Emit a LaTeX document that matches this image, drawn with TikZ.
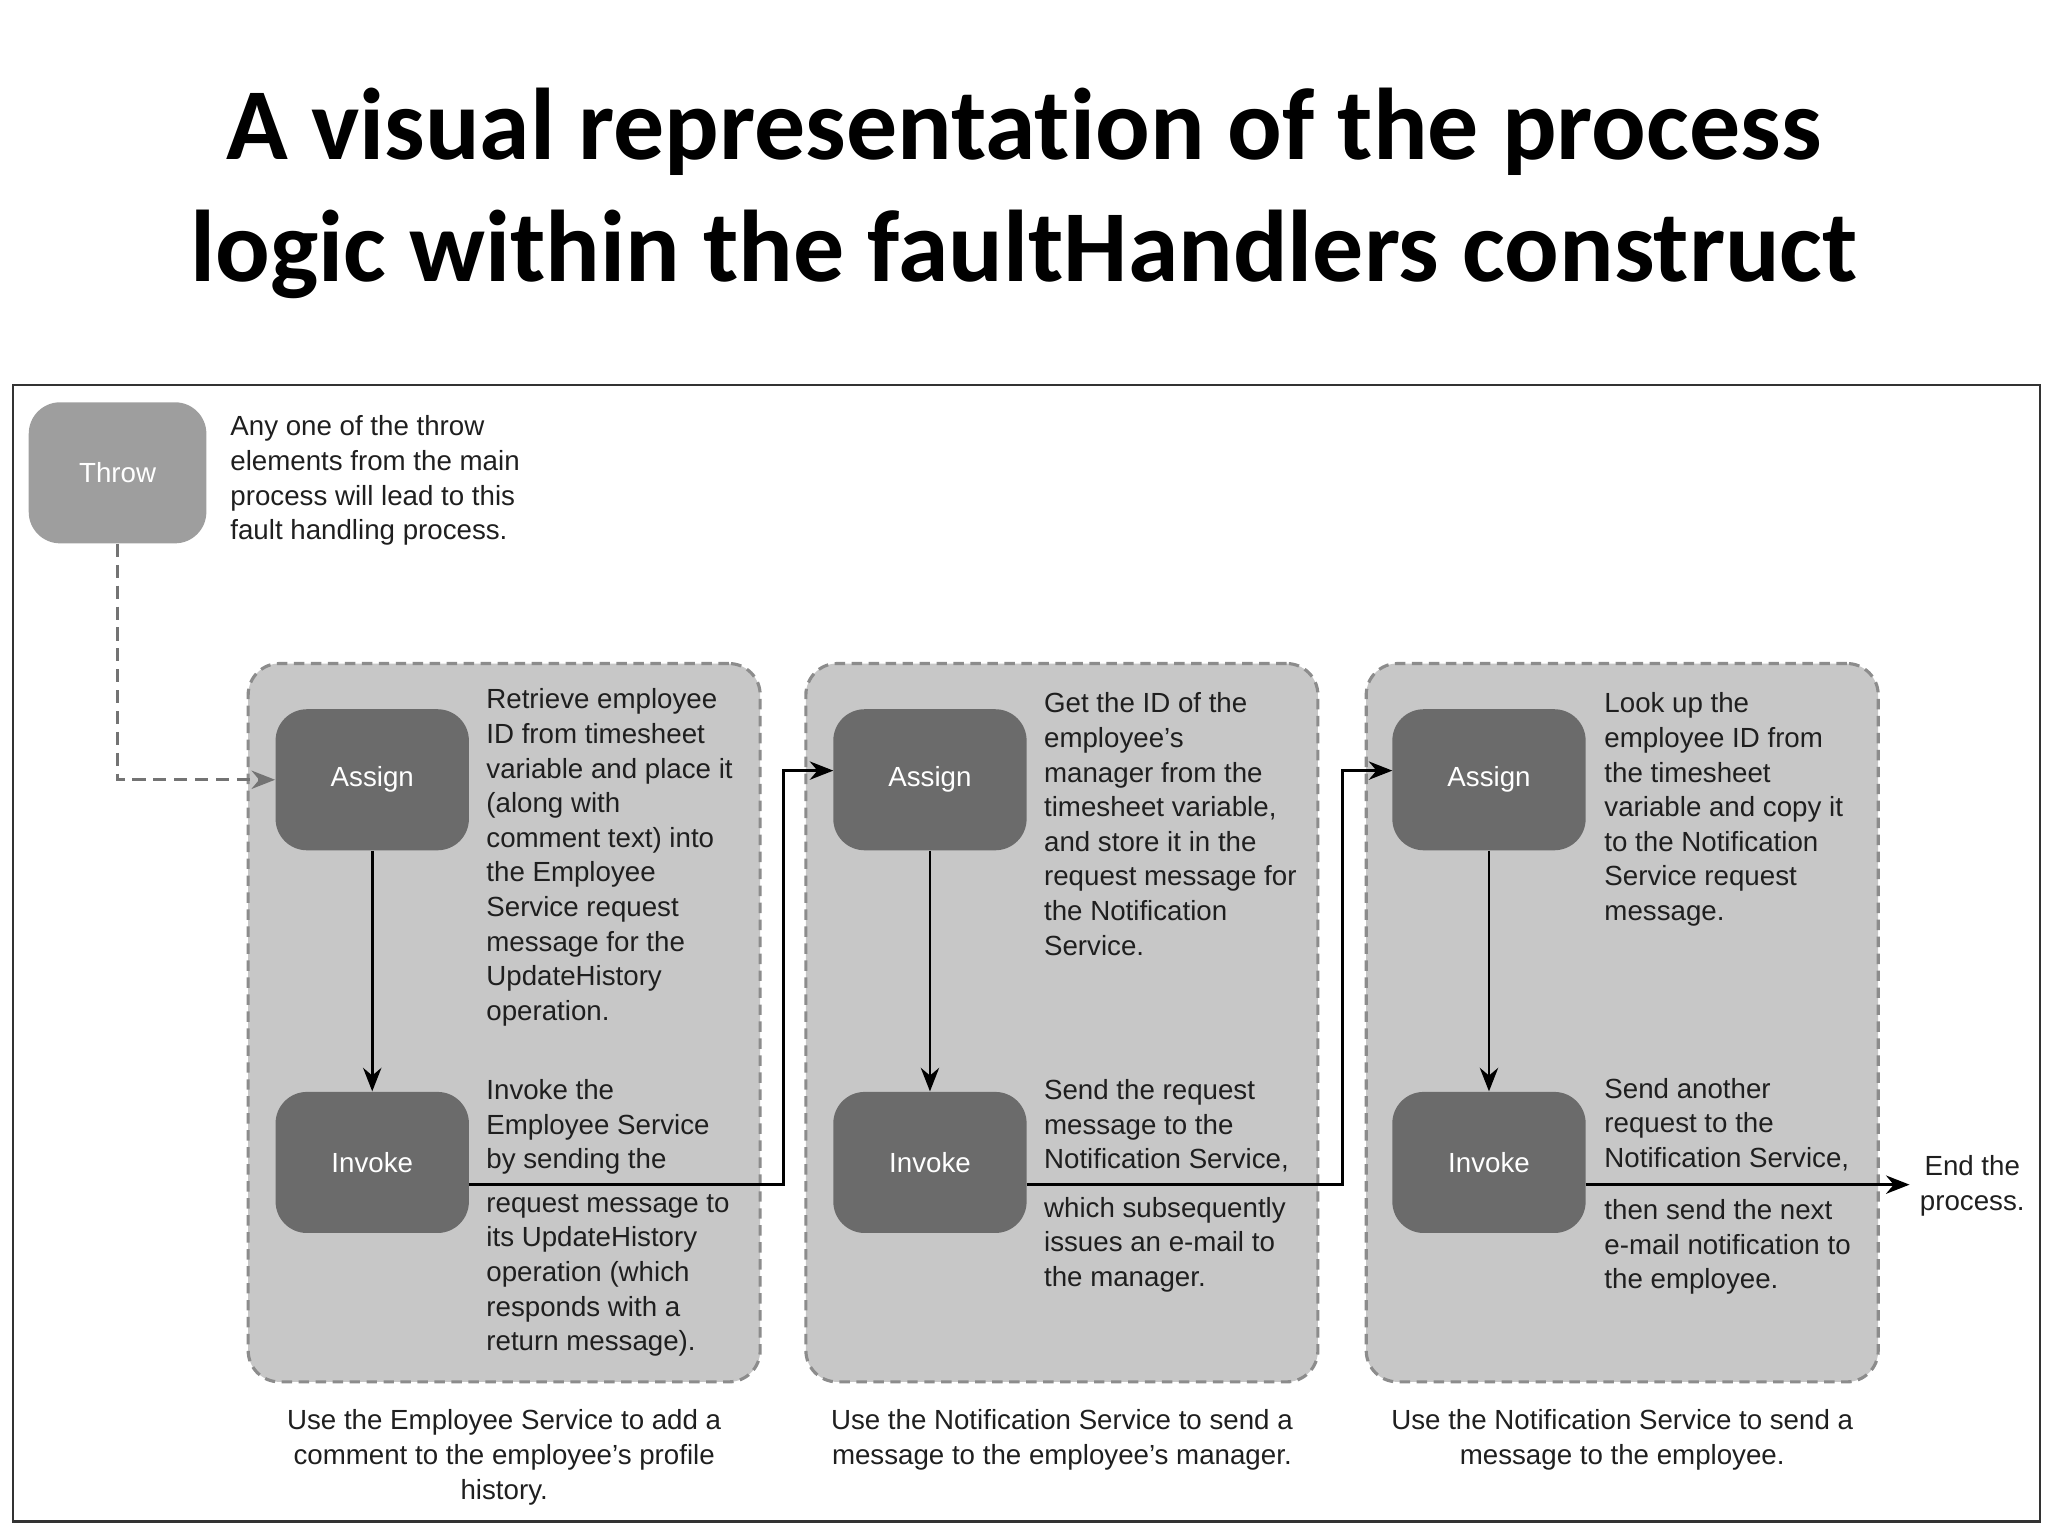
\documentclass[tikz,border=0pt]{standalone}
\usepackage{fontspec}
\setmainfont{Liberation Sans}
\newfontfamily\titlefont{Carlito}[RawFeature=-liga]
\usetikzlibrary{arrows.meta}
\begin{document}
\begin{tikzpicture}[x=0.5pt,y=-0.5pt,
  txt/.style={anchor=north west,align=left,inner sep=0pt,font=\fontsize{10.6pt}{13.25pt}\selectfont,text=black!88},
  captxt/.style={anchor=north,align=center,inner sep=0pt,font=\fontsize{10.6pt}{13.25pt}\selectfont,text=black!88},
  grp/.style={draw=black!45,dash pattern=on 4pt off 2.5pt,line width=1.2pt,fill=black!22,rounded corners=12pt},
  act/.style={draw=none,fill=black!58,rounded corners=12pt,text=white,font=\fontsize{10.6pt}{13pt}\selectfont,minimum width=74pt,minimum height=54pt},
  arr/.style={-{Stealth[length=9pt,width=7pt]},line width=1.1pt,black}]
\useasboundingbox (0,0) rectangle (1568,1176);
\node[font=\titlefont\bfseries\fontsize{39pt}{47pt}\selectfont,align=center] (title) at (784,148) {A visual representation of the process\\logic within the faultHandlers construct};
\draw[line width=0.9pt,black!80] (10,295) rectangle (1562,1165);
\node[draw=none,fill=black!38,rounded corners=12pt,text=white,font=\fontsize{10.6pt}{13pt}\selectfont,minimum width=68pt,minimum height=54pt] (throw) at (90,362) {Throw};
\node[txt] (tthrow) at (176,318) {Any one of the throw\\elements from the main\\process will lead to this\\fault handling process.};
\node[grp,minimum width=196pt,minimum height=275pt] (g1) at (386,783) {};
\node[grp,minimum width=196pt,minimum height=275pt] (g2) at (813,783) {};
\node[grp,minimum width=196pt,minimum height=275pt] (g3) at (1242,783) {};
\node[act] (a1) at (285,597) {Assign};
\node[act] (i1) at (285,890) {Invoke};
\node[act] (a2) at (712,597) {Assign};
\node[act] (i2) at (712,890) {Invoke};
\node[act] (a3) at (1140,597) {Assign};
\node[act] (i3) at (1140,890) {Invoke};
\coordinate (e1) at (359,907); \coordinate (e2) at (786,907); \coordinate (e3) at (1214,907);
\coordinate (endp) at (1462,907);
\coordinate (t2) at (638,590); \coordinate (t3) at (1066,590);
\draw[arr,dash pattern=on 5pt off 3pt,black!55] (throw.south) |- (a1.west);
\draw[arr] (a1) -- (i1);
\draw[arr] (a2) -- (i2);
\draw[arr] (a3) -- (i3);
\draw[arr] (e1) -- (600,907) |- (t2);
\draw[arr] (e2) -- (1028,907) |- (t3);
\draw[arr] (e3) -- (endp);
\node[txt] at (372,527) {Retrieve employee\\ID from timesheet\\variable and place it\\(along with\\comment text) into\\the Employee\\Service request\\message for the\\UpdateHistory\\operation.};
\node[txt] at (372,826) {Invoke the\\Employee Service\\by sending the};
\node[txt] at (372,914) {request message to\\its UpdateHistory\\operation (which\\responds with a\\return message).};
\node[txt] at (799,530) {Get the ID of the\\employee's\\manager from the\\timesheet variable,\\and store it in the\\request message for\\the Notification\\Service.};
\node[txt] at (799,826) {Send the request\\message to the\\Notification Service,};
\node[txt] at (799,916) {which subsequently\\issues an e-mail to\\the manager.};
\node[txt] at (1228,530) {Look up the\\employee ID from\\the timesheet\\variable and copy it\\to the Notification\\Service request\\message.};
\node[txt] at (1228,825) {Send another\\request to the\\Notification Service,};
\node[txt] at (1228,918) {then send the next\\e-mail notification to\\the employee.};
\node[anchor=center,align=center,inner sep=0pt,font=\fontsize{10.6pt}{13.25pt}\selectfont,text=black!88] (endt) at (1510,908) {End the\\process.};
\node[captxt] at (386,1079) {Use the Employee Service to add a\\comment to the employee's profile\\history.};
\node[captxt] at (813,1079) {Use the Notification Service to send a\\message to the employee's manager.};
\node[captxt] at (1242,1079) {Use the Notification Service to send a\\message to the employee.};
\end{tikzpicture}
\end{document}
